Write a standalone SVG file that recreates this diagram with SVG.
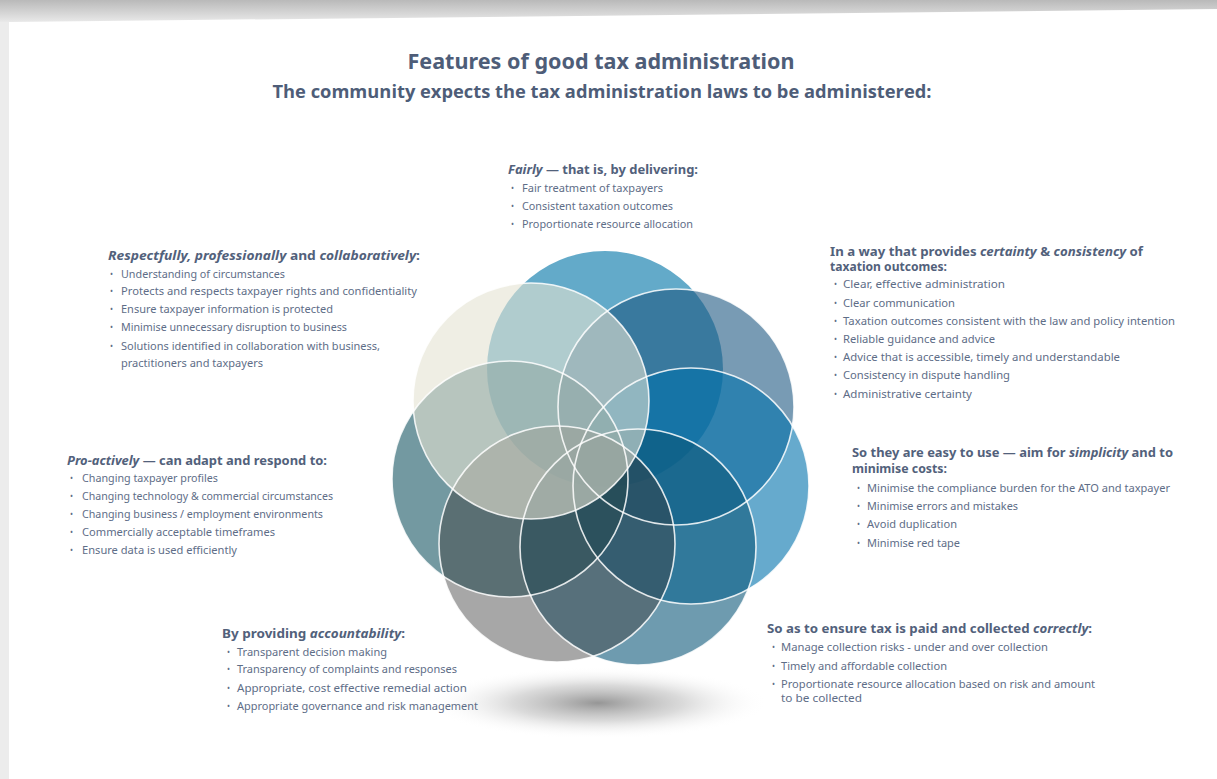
<svg xmlns="http://www.w3.org/2000/svg" width="1217" height="779" viewBox="0 0 1217 779">
<style>
.t{font-family:"Noto Sans","Open Sans","Liberation Sans",sans-serif;fill:#4e5d78;font-weight:bold}
.h{font-family:"Noto Sans","Open Sans","Liberation Sans",sans-serif;font-size:12.5px;font-weight:bold;fill:#52617b}
.b{font-family:"Noto Sans","Open Sans","Liberation Sans",sans-serif;font-size:10.5px;fill:#5e6d87}
.d{font-family:"Noto Sans","Liberation Sans",sans-serif;font-size:8px;fill:#5e6d87}
.i{font-style:italic}
.c{fill-opacity:0.6}
.o{fill:none;stroke:#ffffff;stroke-width:1.6;stroke-opacity:0.85}
</style>
<defs>
<radialGradient id="sh" cx="0.5" cy="0.5" r="0.5">
<stop offset="0" stop-color="#8a8a8a" stop-opacity="0.9"/>
<stop offset="0.5" stop-color="#b5b5b5" stop-opacity="0.5"/>
<stop offset="1" stop-color="#ffffff" stop-opacity="0"/>
</radialGradient>
<linearGradient id="tb" x1="0" y1="0" x2="0" y2="1">
<stop offset="0" stop-color="#b9b9b9"/>
<stop offset="1" stop-color="#e9e9e9"/>
</linearGradient>
</defs>
<rect width="1217" height="779" fill="#ffffff"/>
<polygon points="0,0 1217,0 1217,9 12,22 0,22" fill="url(#tb)"/>
<rect x="0" y="22" width="9" height="757" fill="#ececec"/>

<g id="title">
<text class="t" x="601" y="69" font-size="21" text-anchor="middle" textLength="387" lengthAdjust="spacingAndGlyphs">Features of good tax administration</text>
<text class="t" x="602" y="98" font-size="17.5" font-weight="600" text-anchor="middle" textLength="659" lengthAdjust="spacingAndGlyphs" style="font-family:'Open Sans','Noto Sans',sans-serif">The community expects the tax administration laws to be administered:</text>
</g>

<g id="shadow">
<ellipse cx="598" cy="703" rx="170" ry="36" fill="url(#sh)"/>
</g>

<g id="rosette">
<g id="circle-top"><circle cx="605" cy="369" r="118" fill="#489bc0" fill-opacity="0.85"/></g>
<g id="circle-top-right"><circle class="c" cx="676" cy="407" r="118" fill="#1e5882"/></g>
<g id="circle-right"><circle class="c" cx="691" cy="486" r="118" fill="#0072ac"/></g>
<g id="circle-bottom-right"><circle class="c" cx="638" cy="547" r="118" fill="#0d587a"/></g>
<g id="circle-left"><circle class="c" cx="510" cy="479" r="118" fill="#165563"/></g>
<g id="circle-bottom"><circle cx="557" cy="544" r="118" fill="#3c3c3c" fill-opacity="0.45"/></g>
<g id="circle-top-left"><circle class="c" cx="531" cy="401" r="118" fill="#e4e2d2"/></g>
<g id="outlines">
<circle class="o" cx="676" cy="407" r="118"/>
<circle class="o" cx="691" cy="486" r="118"/>
<circle class="o" cx="638" cy="547" r="118"/>
<circle class="o" cx="557" cy="544" r="118"/>
<circle class="o" cx="510" cy="479" r="118"/>
<circle class="o" cx="531" cy="401" r="118"/>
</g>
</g>

<g id="fairly">
<text class="h" x="508" y="174" textLength="190" lengthAdjust="spacingAndGlyphs"><tspan class="i">Fairly</tspan> — that is, by delivering:</text>
<text class="d" x="511" y="191">•</text><text class="b" x="522" y="192" textLength="141" lengthAdjust="spacingAndGlyphs">Fair treatment of taxpayers</text>
<text class="d" x="511" y="209">•</text><text class="b" x="522" y="210" textLength="151" lengthAdjust="spacingAndGlyphs">Consistent taxation outcomes</text>
<text class="d" x="511" y="227">•</text><text class="b" x="522" y="228" textLength="171" lengthAdjust="spacingAndGlyphs">Proportionate resource allocation</text>
</g>

<g id="respectfully">
<text class="h" x="108" y="260" textLength="312" lengthAdjust="spacingAndGlyphs"><tspan class="i">Respectfully, professionally</tspan> and <tspan class="i">collaboratively</tspan>:</text>
<text class="d" x="110" y="277">•</text><text class="b" x="121" y="278" textLength="164" lengthAdjust="spacingAndGlyphs">Understanding of circumstances</text>
<text class="d" x="110" y="294">•</text><text class="b" x="121" y="295" textLength="296" lengthAdjust="spacingAndGlyphs">Protects and respects taxpayer rights and confidentiality</text>
<text class="d" x="110" y="312">•</text><text class="b" x="121" y="313" textLength="212" lengthAdjust="spacingAndGlyphs">Ensure taxpayer information is protected</text>
<text class="d" x="110" y="330">•</text><text class="b" x="121" y="331" textLength="226" lengthAdjust="spacingAndGlyphs">Minimise unnecessary disruption to business</text>
<text class="d" x="110" y="349">•</text><text class="b" x="121" y="350" textLength="259" lengthAdjust="spacingAndGlyphs">Solutions identified in collaboration with business,</text>
<text class="b" x="121" y="367" textLength="142" lengthAdjust="spacingAndGlyphs">practitioners and taxpayers</text>
</g>

<g id="certainty">
<text class="h" x="830" y="256" textLength="313" lengthAdjust="spacingAndGlyphs">In a way that provides <tspan class="i">certainty</tspan> &amp; <tspan class="i">consistency</tspan> of</text>
<text class="h" x="830" y="271" textLength="117" lengthAdjust="spacingAndGlyphs">taxation outcomes:</text>
<text class="d" x="834" y="287">•</text><text class="b" x="843" y="288" textLength="162" lengthAdjust="spacingAndGlyphs">Clear, effective administration</text>
<text class="d" x="834" y="306">•</text><text class="b" x="843" y="307" textLength="112" lengthAdjust="spacingAndGlyphs">Clear communication</text>
<text class="d" x="834" y="324">•</text><text class="b" x="843" y="325" textLength="332" lengthAdjust="spacingAndGlyphs">Taxation outcomes consistent with the law and policy intention</text>
<text class="d" x="834" y="342">•</text><text class="b" x="843" y="343" textLength="152" lengthAdjust="spacingAndGlyphs">Reliable guidance and advice</text>
<text class="d" x="834" y="360">•</text><text class="b" x="843" y="361" textLength="277" lengthAdjust="spacingAndGlyphs">Advice that is accessible, timely and understandable</text>
<text class="d" x="834" y="378">•</text><text class="b" x="843" y="379" textLength="167" lengthAdjust="spacingAndGlyphs">Consistency in dispute handling</text>
<text class="d" x="834" y="397">•</text><text class="b" x="843" y="398" textLength="129" lengthAdjust="spacingAndGlyphs">Administrative certainty</text>
</g>

<g id="proactively">
<text class="h" x="67" y="465" textLength="260" lengthAdjust="spacingAndGlyphs"><tspan class="i">Pro-actively</tspan> — can adapt and respond to:</text>
<text class="d" x="70" y="481">•</text><text class="b" x="82" y="482" textLength="136" lengthAdjust="spacingAndGlyphs">Changing taxpayer profiles</text>
<text class="d" x="70" y="499">•</text><text class="b" x="82" y="500" textLength="251" lengthAdjust="spacingAndGlyphs">Changing technology &amp; commercial circumstances</text>
<text class="d" x="70" y="517">•</text><text class="b" x="82" y="518" textLength="241" lengthAdjust="spacingAndGlyphs">Changing business / employment environments</text>
<text class="d" x="70" y="535">•</text><text class="b" x="82" y="536" textLength="193" lengthAdjust="spacingAndGlyphs">Commercially acceptable timeframes</text>
<text class="d" x="70" y="553">•</text><text class="b" x="82" y="554" textLength="155" lengthAdjust="spacingAndGlyphs">Ensure data is used efficiently</text>
</g>

<g id="simplicity">
<text class="h" x="852" y="457" textLength="321" lengthAdjust="spacingAndGlyphs">So they are easy to use — aim for <tspan class="i">simplicity</tspan> and to</text>
<text class="h" x="852" y="473" textLength="95" lengthAdjust="spacingAndGlyphs">minimise costs:</text>
<text class="d" x="857" y="491">•</text><text class="b" x="867" y="492" textLength="303" lengthAdjust="spacingAndGlyphs">Minimise the compliance burden for the ATO and taxpayer</text>
<text class="d" x="857" y="509">•</text><text class="b" x="867" y="510" textLength="151" lengthAdjust="spacingAndGlyphs">Minimise errors and mistakes</text>
<text class="d" x="857" y="527">•</text><text class="b" x="867" y="528" textLength="90" lengthAdjust="spacingAndGlyphs">Avoid duplication</text>
<text class="d" x="857" y="546">•</text><text class="b" x="867" y="547" textLength="93" lengthAdjust="spacingAndGlyphs">Minimise red tape</text>
</g>

<g id="accountability">
<text class="h" x="222" y="638" textLength="183" lengthAdjust="spacingAndGlyphs">By providing <tspan class="i">accountability</tspan>:</text>
<text class="d" x="227" y="655">•</text><text class="b" x="237" y="656" textLength="150" lengthAdjust="spacingAndGlyphs">Transparent decision making</text>
<text class="d" x="227" y="672">•</text><text class="b" x="237" y="673" textLength="220" lengthAdjust="spacingAndGlyphs">Transparency of complaints and responses</text>
<text class="d" x="227" y="691">•</text><text class="b" x="237" y="692" textLength="230" lengthAdjust="spacingAndGlyphs">Appropriate, cost effective remedial action</text>
<text class="d" x="227" y="709">•</text><text class="b" x="237" y="710" textLength="241" lengthAdjust="spacingAndGlyphs">Appropriate governance and risk management</text>
</g>

<g id="correctly">
<text class="h" x="767" y="633" textLength="325" lengthAdjust="spacingAndGlyphs">So as to ensure tax is paid and collected <tspan class="i">correctly</tspan>:</text>
<text class="d" x="772" y="650">•</text><text class="b" x="781" y="651" textLength="267" lengthAdjust="spacingAndGlyphs">Manage collection risks - under and over collection</text>
<text class="d" x="772" y="669">•</text><text class="b" x="781" y="670" textLength="166" lengthAdjust="spacingAndGlyphs">Timely and affordable collection</text>
<text class="d" x="772" y="687">•</text><text class="b" x="781" y="688" textLength="314" lengthAdjust="spacingAndGlyphs">Proportionate resource allocation based on risk and amount</text>
<text class="b" x="781" y="702" textLength="81" lengthAdjust="spacingAndGlyphs">to be collected</text>
</g>
</svg>
